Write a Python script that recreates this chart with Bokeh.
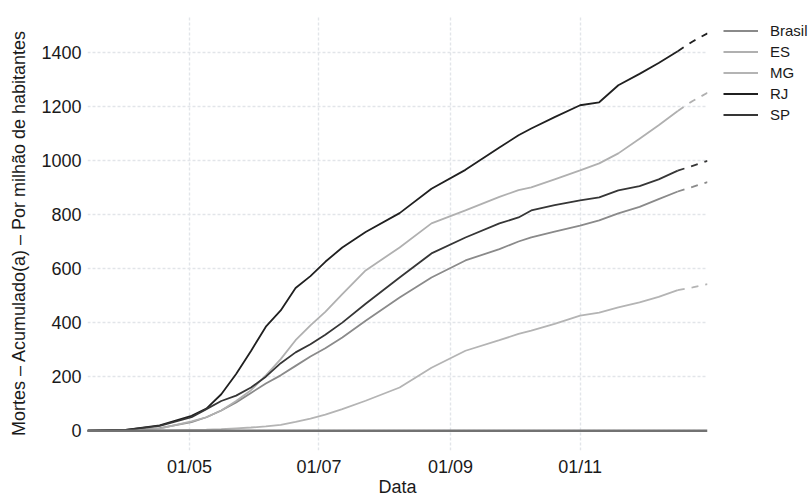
from datetime import datetime
import pandas as pd
from bokeh.plotting import figure
from bokeh.models import (Range1d, FixedTicker, DatetimeTickFormatter, Legend,
                          LegendItem, Span, ColumnDataSource)
from bokeh.embed import file_html
from bokeh.resources import INLINE

# ---------------- data ----------------
dates = ["2020-03-14", "2020-04-01", "2020-04-17", "2020-05-02", "2020-05-09",
         "2020-05-16", "2020-05-23", "2020-05-30", "2020-06-06", "2020-06-13",
         "2020-06-20", "2020-06-27", "2020-07-04", "2020-07-12", "2020-07-23",
         "2020-08-08", "2020-08-23", "2020-09-08", "2020-09-24", "2020-10-03",
         "2020-10-09", "2020-10-20", "2020-11-01", "2020-11-10", "2020-11-19",
         "2020-11-29", "2020-12-08", "2020-12-17", "2020-12-24", "2020-12-31"]

brasil = [0, 1, 10, 32, 50, 75, 105, 140, 175, 205, 240, 275, 305, 345, 407,
          493, 567, 630, 672, 700, 715, 737, 759, 778, 804, 828, 857, 885, 902, 920]
es = [0, 1, 8, 35, 50, 75, 110, 150, 205, 265, 335, 390, 440, 505, 593,
      678, 767, 815, 865, 890, 900, 930, 963, 989, 1026, 1080, 1130, 1183, 1220, 1250]
mg = [0, 0, 1, 3, 4, 6, 9, 12, 16, 22, 33, 45, 60, 80, 111,
      160, 233, 296, 335, 358, 370, 395, 426, 437, 456, 475, 495, 520, 530, 542]
rj = [0, 3, 20, 55, 82, 135, 210, 295, 385, 445, 528, 572, 625, 678, 735,
      805, 895, 965, 1048, 1093, 1118, 1160, 1204, 1215, 1278, 1320, 1360, 1404, 1440, 1470]
sp = [0, 3, 18, 50, 80, 110, 130, 160, 200, 250, 290, 320, 355, 400, 470,
      567, 656, 715, 767, 789, 815, 835, 852, 863, 889, 905, 930, 962, 980, 998]

series_names = ["Brasil", "ES", "MG", "RJ", "SP"]
series_values = [brasil, es, mg, rj, sp]
series_colors = ["#8a8a8a", "#b0b0b0", "#b4b4b4", "#202020", "#363636"]

dashed_from = "2020-12-17"          # last (incomplete) stretch drawn dashed
x_start, x_end = "2020-03-14", "2020-12-31"
y_start, y_end = -73, 1536
y_ticks = [0, 200, 400, 600, 800, 1000, 1200, 1400]
x_ticks = ["2020-05-01", "2020-07-01", "2020-09-01", "2020-11-01"]
zero_line = 0

x_label = "Data"
y_label = "Mortes \u2013 Acumulado(a) \u2013 Por milh\u00e3o de habitantes"

# ---------------- figure ----------------
FONT = "Liberation Sans"
TXT = "#1a1a1a"

xd = pd.to_datetime(dates)
cut = pd.Timestamp(dashed_from)

p = figure(output_backend="svg", toolbar_location=None,
           x_axis_type="datetime",
           x_range=Range1d(pd.Timestamp(x_start), pd.Timestamp(x_end)),
           y_range=Range1d(y_start, y_end),
           frame_width=620, frame_height=435,
           min_border_left=87, min_border_right=88,
           min_border_top=15, min_border_bottom=40)
p.outline_line_color = None
p.background_fill_color = "white"
p.border_fill_color = "white"

# grid
tick_ms = [pd.Timestamp(t).value / 1e6 for t in x_ticks]
p.xaxis.ticker = FixedTicker(ticks=tick_ms)
p.yaxis.ticker = FixedTicker(ticks=y_ticks)
p.xaxis.formatter = DatetimeTickFormatter(days="%d/%m", months="%d/%m",
                                          years="%d/%m", hours="%d/%m")
for g in (p.xgrid, p.ygrid):
    g.grid_line_color = "#e2e5e9"
    g.grid_line_width = 1.4
    g.grid_line_dash = "3 2"
    g.minor_grid_line_color = None

# axes
for ax in (p.xaxis, p.yaxis):
    ax.axis_line_color = None
    ax.major_tick_line_color = None
    ax.minor_tick_line_color = None
    ax.major_tick_out = 0
    ax.major_tick_in = 0
    ax.major_label_text_font = FONT
    ax.major_label_text_font_size = "18px"
    ax.major_label_text_color = TXT
    ax.axis_label_text_font = FONT
    ax.axis_label_text_font_size = "18px"
    ax.axis_label_text_font_style = "normal"
    ax.axis_label_text_color = TXT

p.xaxis.axis_label = x_label
p.yaxis.axis_label = y_label
p.xaxis.major_label_standoff = 6
p.xaxis.axis_label_standoff = -3
p.yaxis.major_label_standoff = 6
p.yaxis.axis_label_standoff = 9

# zero line
p.add_layout(Span(location=zero_line, dimension="width",
                  line_color="#727272", line_width=2.6))

# series
items = []
for name, vals, col in zip(series_names, series_values, series_colors):
    df = pd.DataFrame({"x": xd, "y": vals})
    solid = ColumnDataSource(df[df.x <= cut])
    dash = ColumnDataSource(df[df.x >= cut])
    r = p.line("x", "y", source=solid, line_color=col, line_width=1.8)
    p.line("x", "y", source=dash, line_color=col, line_width=1.8,
           line_dash="7 7")
    items.append(LegendItem(label=name, renderers=[r]))

legend = Legend(items=items, location=(16, 325),
                glyph_width=35, glyph_height=21, spacing=0,
                label_standoff=12, padding=0, margin=0,
                label_text_font=FONT, label_text_font_size="15px",
                label_text_color=TXT,
                border_line_alpha=0, background_fill_alpha=0)
p.add_layout(legend, "right")

open("out.html", "w").write(file_html(p, INLINE))
